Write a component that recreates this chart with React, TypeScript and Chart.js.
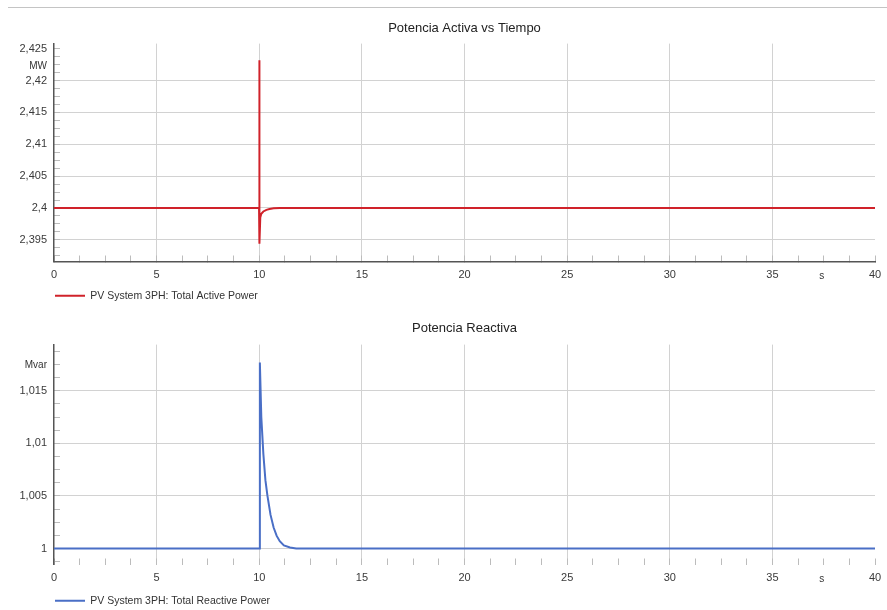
import React, { useEffect, useRef } from 'react';
import { Chart, registerables } from 'chart.js';

Chart.register(...registerables);

const FONT = '"Liberation Sans", Arial, Helvetica, sans-serif';

// ---- data ----
const xMin = 0;
const xMax = 40;
const xMajorStep = 5;
const xMinorStep = 1.25;
const yMinorStep = 0.00125;
const yMajorStep = 0.005;

const activeTitle = 'Potencia Activa vs Tiempo';
const activeLabel = 'PV System 3PH: Total Active Power';
const activeTimes = [0, 9.99, 10.0, 10.005, 10.02, 10.05, 10.1, 10.2, 10.35, 10.5, 10.7, 11.0, 40];
const activeValues = [2.4, 2.4, 2.4232, 2.41, 2.3944, 2.3985, 2.3991, 2.39945, 2.3997, 2.39985, 2.39995, 2.4, 2.4];
const activeRange = [2.3916, 2.4258];

const reactiveTitle = 'Potencia Reactiva';
const reactiveLabel = 'PV System 3PH: Total Reactive Power';
const reactiveTimes = [0, 10.0, 10.03, 10.1, 10.2, 10.3, 10.4, 10.55, 10.7, 10.85, 11.0, 11.2, 11.5, 11.8, 40];
const reactiveValues = [1.0, 1.0, 1.0177, 1.0125, 1.009, 1.0065, 1.005, 1.0032, 1.002, 1.0012, 1.0007, 1.0003, 1.0001, 1.0, 1.0];
const reactiveRange = [0.99848, 1.0194];

const timeUnit = 's';
const activeUnit = 'MW';
const reactiveUnit = 'Mvar';

// ---- helpers ----
function isMultiple(v: number, step: number) {
  const r = v / step;
  return Math.abs(r - Math.round(r)) < 1e-6;
}
const fmt = (v: number) => String(parseFloat(v.toFixed(4))).replace('.', ',');

type PanelSpec = {
  title: string;
  label: string;
  color: string;
  times: number[];
  values: number[];
  range: number[];
  gridMax: number;
  yUnit: string;
  yUnitAt: number;
  xUnitAt: number;
  xBorder: boolean;
  titlePad: { top: number; bottom: number };
  xAxisHeight: number;
};

function unitPlugin(spec: PanelSpec) {
  return {
    id: 'units',
    afterDraw(chart: any) {
      const { ctx, scales } = chart;
      ctx.save();
      ctx.font = `10px ${FONT}`;
      ctx.fillStyle = '#333';
      ctx.textAlign = 'right';
      ctx.textBaseline = 'middle';
      ctx.fillText(spec.yUnit, scales.y.right - 7, scales.y.getPixelForValue(spec.yUnitAt));
      ctx.textAlign = 'center';
      ctx.fillText(timeUnit, scales.x.getPixelForValue(spec.xUnitAt), scales.x.top + 15);
      ctx.restore();
    },
  };
}

function makeChart(canvas: HTMLCanvasElement, spec: PanelSpec) {
  const points = spec.times.map((t, i) => ({ x: t, y: spec.values[i] }));
  return new Chart(canvas, {
    type: 'line',
    data: {
      datasets: [
        {
          label: spec.label,
          data: points,
          borderColor: spec.color,
          backgroundColor: spec.color,
          borderWidth: 2,
          pointRadius: 0,
          tension: 0,
          fill: false,
        },
      ],
    },
    options: {
      animation: false,
      responsive: false,
      maintainAspectRatio: false,
      layout: { padding: { left: 0, right: 12, top: 0, bottom: 0 } },
      plugins: {
        title: {
          display: true,
          fullSize: false,
          text: spec.title,
          color: '#222',
          font: { family: FONT, size: 13, weight: 'normal' },
          padding: spec.titlePad,
        },
        legend: {
          display: true,
          position: 'bottom',
          align: 'start',
          fullSize: false,
          labels: {
            boxWidth: 30,
            boxHeight: 2,
            padding: 1,
            color: '#333',
            font: { family: FONT, size: 10.5 },
            generateLabels: (chart: any) =>
              chart.data.datasets.map((ds: any, i: number) => ({
                text: ds.label,
                fillStyle: ds.borderColor,
                strokeStyle: ds.borderColor,
                lineWidth: 0,
                hidden: false,
                datasetIndex: i,
                fontColor: '#333',
              })),
          },
        },
        tooltip: { enabled: false },
      },
      scales: {
        x: {
          type: 'linear',
          min: xMin,
          max: xMax,
          afterFit: (s: any) => {
            s.height = spec.xAxisHeight;
            s.paddingLeft = 0;
            s.paddingRight = 0;
          },
          border: { display: spec.xBorder, color: '#555', width: 1.5 },
          grid: {
            color: (c: any) => {
              const v = c.tick ? c.tick.value : 0;
              return isMultiple(v, xMajorStep) && v > xMin && v < xMax ? '#d2d2d2' : 'rgba(0,0,0,0)';
            },
            tickColor: '#bcbcbc',
            tickLength: -6,
            drawTicks: true,
            lineWidth: 1,
          },
          ticks: {
            stepSize: xMinorStep,
            autoSkip: false,
            maxRotation: 0,
            includeBounds: false,
            maxTicksLimit: 1000,
            padding: 13,
            color: '#3a3a3a',
            font: { family: FONT, size: 11 },
            callback: (v: any) => (isMultiple(Number(v), xMajorStep) ? String(v) : ''),
          },
        },
        y: {
          type: 'linear',
          min: spec.range[0],
          max: spec.range[1],
          afterFit: (s: any) => {
            s.width = 46;
          },
          border: { display: true, color: '#555', width: 1.5 },
          grid: {
            color: (c: any) => {
              const v = c.tick ? c.tick.value : 0;
              return isMultiple(v, yMajorStep) && v < spec.gridMax ? '#d2d2d2' : 'rgba(0,0,0,0)';
            },
            tickColor: '#bcbcbc',
            tickLength: -6,
            drawTicks: true,
            lineWidth: 1,
          },
          ticks: {
            stepSize: yMinorStep,
            autoSkip: false,
            includeBounds: false,
            maxTicksLimit: 1000,
            padding: 13,
            color: '#3a3a3a',
            font: { family: FONT, size: 11 },
            callback: (v: any) => (isMultiple(Number(v), yMajorStep) ? fmt(Number(v)) : ''),
          },
        },
      },
    },
    plugins: [unitPlugin(spec)],
  } as any);
}

const activeSpec: PanelSpec = {
  title: activeTitle,
  label: activeLabel,
  color: '#d0222a',
  times: activeTimes,
  values: activeValues,
  range: activeRange,
  gridMax: 2.424,
  yUnit: activeUnit,
  yUnitAt: 2.4222,
  xUnitAt: 37.4,
  xBorder: true,
  titlePad: { top: 13, bottom: 7 },
  xAxisHeight: 28,
};

const reactiveSpec: PanelSpec = {
  title: reactiveTitle,
  label: reactiveLabel,
  color: '#4a6fc6',
  times: reactiveTimes,
  values: reactiveValues,
  range: reactiveRange,
  gridMax: 1.02,
  yUnit: reactiveUnit,
  yUnitAt: 1.01743,
  xUnitAt: 37.4,
  xBorder: false,
  titlePad: { top: 12, bottom: 8 },
  xAxisHeight: 30,
};

function Panel({ spec, top, height }: { spec: PanelSpec; top: number; height: number }) {
  const ref = useRef<HTMLCanvasElement | null>(null);
  useEffect(() => {
    if (!ref.current) return;
    const chart = makeChart(ref.current, spec);
    return () => chart.destroy();
  }, [spec]);
  return (
    <canvas
      ref={ref}
      width={879}
      height={height}
      style={{ position: 'absolute', left: 8, top, width: 879, height }}
    />
  );
}

export default function App() {
  return (
    <div
      style={{
        position: 'fixed',
        left: 0,
        top: 0,
        width: 887,
        height: 610,
        overflow: 'hidden',
        background: '#fff',
      }}
    >
      <div style={{ position: 'absolute', left: 8, top: 7, width: 879, height: 0, borderTop: '1px solid #c4c4c4' }} />
      <Panel spec={activeSpec} top={8} height={303} />
      <Panel spec={reactiveSpec} top={309} height={307} />
    </div>
  );
}
